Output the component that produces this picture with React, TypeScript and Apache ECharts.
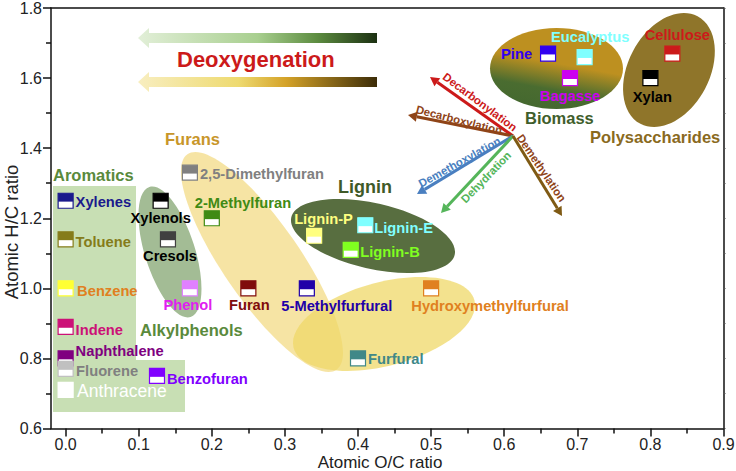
import React, { useEffect, useRef } from "react";
import * as echarts from "echarts";

const FONT = '"Liberation Sans", Arial, sans-serif';

// ---- data ----
const names = ["Xylenes","Toluene","Benzene","Indene","Naphthalene","Fluorene","Anthracene","Benzofuran","Xylenols","Cresols","Phenol","2-Methylfuran","2,5-Dimethylfuran","Furan","5-Methylfurfural","Hydroxymethylfurfural","Furfural","Lignin-P","Lignin-E","Lignin-B","Pine","Eucalyptus","Bagasse","Cellulose","Xylan"];
const ocRatio = [0,0,0,0,0,0,0,0.125,0.13,0.14,0.17,0.2,0.17,0.25,0.33,0.5,0.4,0.34,0.41,0.39,0.66,0.71,0.69,0.83,0.8];
const hcRatio = [1.25,1.14,1.0,0.89,0.8,0.77,0.71,0.75,1.25,1.14,1.0,1.2,1.33,1.0,1.0,1.0,0.8,1.15,1.18,1.11,1.67,1.66,1.6,1.67,1.6];
const xTicks = [0,0.1,0.2,0.3,0.4,0.5,0.6,0.7,0.8,0.9];
const xMinorTicks = [0.05,0.15,0.25,0.35,0.45,0.55,0.65,0.75,0.85];

// ---- marker / label styling ----
const markerColors = ["#1a1a8c","#857c1a","#ffff33","#cc1177","#800080","#c0c0c0","#ffffff","#8000ff","#000000","#404040","#e080ff","#3f8a14","#808080","#800c0c","#2000a8","#e08020","#408888","#ffff80","#80ffff","#80ff20","#3000f0","#80ffff","#cc00f0","#cc1a1a","#000000"];
const labelColors = ["#1a1a8c","#857c1a","#e08020","#cc1177","#800080","#808080","#ffffff","#8000ff","#000000","#000000","#e020f0","#3f8a14","#808080","#800c0c","#2000a8","#e08020","#408888","#ffff80","#80ffff","#80ff20","#3000f0","#80ffff","#cc00f0","#cc1a1a","#000000"];
const labelDx = [10,10,11.5,10,10,10.5,11.5,10,0,2,-2,-17,10,1,30,59,10,-20,9,9.5,-47,5.5,0,5,2];
const labelDy = [1.5,3,3,3,-7,2,1.5,3,17.5,17,17,-15,1,17,18,18,1,-16.5,3,2,0.5,-20,18,-18.5,19];
const labelAlign = ["left","left","left","left","left","left","left","left","center","center","center","left","left","center","center","center","left","left","left","left","left","center","center","center","center"];

function ellipse(cx: number, cy: number, rx: number, ry: number, deg: number, fill: any, opacity = 1) {
  return { type: "ellipse", z: 1, x: cx, y: cy, rotation: (deg * Math.PI) / 180, shape: { cx: 0, cy: 0, rx, ry }, style: { fill, opacity } };
}
function txt(text: string, x: number, y: number, fill: string, size: number, align = "left", deg = 0, weight = "bold") {
  return { type: "text", z: 5, x, y, rotation: (deg * Math.PI) / 180, style: { text, fill, font: `${weight} ${size}px ${FONT}`, textAlign: align, textVerticalAlign: "middle" } };
}
function arrow(x0: number, y0: number, x1: number, y1: number, color: string) {
  const dx = x1 - x0, dy = y1 - y0, len = Math.hypot(dx, dy), ux = dx / len, uy = dy / len;
  const bx = x1 - ux * 9, by = y1 - uy * 9;
  return [
    { type: "line", z: 3, shape: { x1: x0, y1: y0, x2: bx, y2: by }, style: { stroke: color, lineWidth: 3 } },
    { type: "polygon", z: 3, shape: { points: [[x1, y1], [bx - uy * 5, by + ux * 5], [bx + uy * 5, by - ux * 5]] }, style: { fill: color } },
  ];
}
function band(yc: number, stops: [number, string][]) {
  const c = stops.map(([offset, color]) => ({ offset, color }));
  return {
    type: "polygon", z: 1,
    shape: { points: [[138, yc], [149, yc - 10], [149, yc - 5], [377, yc - 5], [377, yc + 5], [149, yc + 5], [149, yc + 10]] },
    style: { fill: { type: "linear", x: 0, y: 0, x2: 1, y2: 0, colorStops: c } },
  };
}

export default function App() {
  const ref = useRef<HTMLDivElement>(null);
  useEffect(() => {
    document.body.style.margin = "0";
    const chart = echarts.init(ref.current!, null, { renderer: "svg" });
    const O = [513, 136];
    const graphicEls: any[] = [
      { type: "polygon", z: 1, shape: { points: [[53, 186], [136, 186], [136, 360], [185, 360], [185, 412], [53, 412]] }, style: { fill: "#c8dfb4" } },
      ellipse(262, 262, 38.6, 131, 34.7, "#f0d268", 0.6),
      ellipse(384, 324, 93.5, 41.9, 14.7, "#efd868", 0.75),
      ellipse(170, 252, 25, 68.2, 17.6, "#a3bc95"),
      ellipse(373, 236, 83.8, 32.8, -12.9, "#586e40"),
      ellipse(556.5, 68.5, 66.5, 40.5, 0, { type: "linear", x: 0.35, y: 1, x2: 0.65, y2: 0, colorStops: [{ offset: 0, color: "#44682f" }, { offset: 0.25, color: "#4a6c30" }, { offset: 0.56, color: "#bd9020" }, { offset: 1, color: "#bd9020" }] }),
      ellipse(669, 70, 40.7, 60.9, -28, "#8f752a"),
      band(38, [[0, "#e2efd8"], [0.5, "#a8cf8f"], [0.75, "#5c8c40"], [1, "#1c3012"]]),
      band(82, [[0, "#f8eec0"], [0.42, "#eeda70"], [0.62, "#d4a228"], [1, "#3c2c08"]]),
      ...arrow(O[0], O[1], 430, 77, "#cc1a1a"),
      ...arrow(O[0], O[1], 408, 115, "#8f4418"),
      ...arrow(O[0], O[1], 417, 194, "#4a7fc0"),
      ...arrow(O[0], O[1], 441, 213, "#55b55a"),
      ...arrow(O[0], O[1], 562, 216, "#7f5a14"),
      txt("Decarbonylation", 480, 102, "#cc1a1a", 11.4, "center", -36.7),
      txt("Decarboxylation", 459, 120, "#8f4418", 11.4, "center", -14.3),
      txt("Demethoxylation", 459.5, 162, "#4a7fc0", 11.4, "center", 29),
      txt("Dehydration", 486, 177, "#55b55a", 11.4, "center", 46),
      txt("Demethylation", 541.5, 168, "#8f4418", 11.4, "center", -56),
      txt("Deoxygenation", 177, 59, "#cc1a1a", 22),
      txt("Aromatics", 53, 175, "#5a8a3c", 16.5),
      txt("Furans", 165, 139, "#c8962a", 16.5),
      txt("Alkylphenols", 140, 330, "#5a8a3c", 16.5),
      txt("Lignin", 338, 187, "#3f5a28", 18),
      txt("Biomass", 525, 118, "#3f5e2c", 16.5),
      txt("Polysaccharides", 590, 137, "#8a6a1e", 16.5),
      txt("Atomic O/C ratio", 380, 462.5, "#222", 17, "center", 0, "normal"),
      txt("Atomic H/C ratio", 11, 232, "#222", 18.5, "center", 90, "normal"),
    ];
    const tick = { fontFamily: FONT, fontSize: 16, color: "#222" };
    const line = { lineStyle: { color: "#111", width: 1.5 } };
    chart.setOption({
      animation: false,
      backgroundColor: "#fff",
      grid: { left: 51, top: 8, width: 672.5, height: 420.5, containLabel: false, outerBoundsMode: "none" },
      xAxis: [
        { type: "value", position: "bottom", min: -0.02, max: 0.9, splitLine: { show: false },
          axisLine: { show: true, onZero: false, ...line },
          axisTick: { show: true, length: 8, customValues: xTicks, ...line },
          axisLabel: { show: true, margin: 8, customValues: xTicks, showMinLabel: true, showMaxLabel: true, formatter: (v: number) => v.toFixed(1), ...tick } },
        { type: "value", position: "bottom", min: -0.02, max: 0.9, splitLine: { show: false },
          axisLine: { show: false }, axisLabel: { show: false },
          axisTick: { show: true, length: 5, customValues: xMinorTicks, ...line } },
        { type: "value", position: "top", min: -0.02, max: 0.9, splitLine: { show: false },
          axisLine: { show: true, onZero: false, ...line }, axisLabel: { show: false }, axisTick: { show: false } },
      ],
      yAxis: [
        { type: "value", position: "left", min: 0.6, max: 1.8, interval: 0.2, splitLine: { show: false },
          axisLine: { show: true, onZero: false, ...line },
          axisTick: { show: true, length: 8, ...line },
          minorTick: { show: true, splitNumber: 2, length: 5, lineStyle: { color: "#111", width: 1.5 } },
          axisLabel: { show: true, margin: 9, formatter: (v: number) => v.toFixed(1), ...tick } },
        { type: "value", position: "right", min: 0.6, max: 1.8, interval: 0.1, splitLine: { show: false },
          axisLine: { show: true, onZero: false, ...line }, axisLabel: { show: false },
          axisTick: { show: true, length: 2, lineStyle: { color: "#555", width: 1 } } },
      ],
      graphic: { elements: graphicEls },
      series: [
        {
          type: "custom",
          xAxisIndex: 0,
          yAxisIndex: 0,
          clip: false,
          z: 4,
          data: names.map((n, i) => [ocRatio[i], hcRatio[i], i]),
          encode: { x: 0, y: 1 },
          renderItem: (_p: any, api: any) => {
            const i = api.value(2);
            const [cx, cy] = api.coord([api.value(0), api.value(1)]);
            const color = markerColors[i];
            const s = 15;
            return {
              type: "group",
              children: [
                { type: "rect", shape: { x: cx - s / 2, y: cy - s / 2, width: s, height: s }, style: { fill: "#fff", stroke: color, lineWidth: 1.2 } },
                { type: "rect", shape: { x: cx - s / 2, y: cy - s / 2, width: s, height: s * 0.56 }, style: { fill: color } },
                { type: "text", z2: 10, x: cx + labelDx[i], y: cy + labelDy[i], style: { text: names[i], fill: labelColors[i], font: `${names[i] === "Anthracene" ? "normal 17.5" : "bold 14.7"}px ${FONT}`, textAlign: labelAlign[i], textVerticalAlign: "middle" } },
              ],
            };
          },
        },
      ],
    });
    return () => chart.dispose();
  }, []);
  return <div ref={ref} style={{ width: 736, height: 471 }} />;
}
